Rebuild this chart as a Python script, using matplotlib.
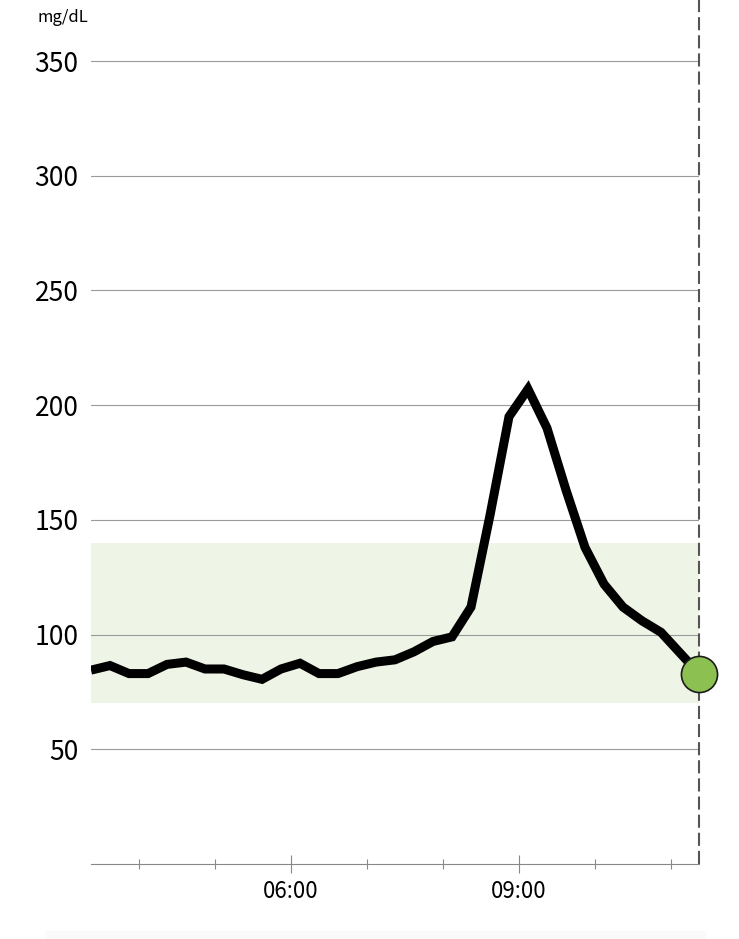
import matplotlib.pyplot as plt
import matplotlib.dates as mdates
import pandas as pd
from matplotlib.patches import Rectangle

plt.rcParams['font.family'] = ['Noto Sans CJK JP', 'DejaVu Sans']

# CGM readings, every 15 minutes
times = pd.date_range("2024-01-01 03:22", periods=33, freq="15min")
glucose = [84.5, 86.5, 83, 83, 87, 88, 85, 85, 82.5, 80.5,
           85, 87.5, 83, 83, 86, 88, 89, 92.5, 97, 99,
           112, 152, 195, 207, 190, 163, 138, 122, 112, 106,
           101, 92, 83]

target_low = 70
target_high = 140
y_ticks = [50, 100, 150, 200, 250, 300, 350]

fig = plt.figure(figsize=(7.39, 9.39), dpi=100)
ax = fig.add_axes([91/739, 75/939, 608/739, 864/939])

# faint strip at the very bottom of the screenshot
fig.patches.append(Rectangle((45/739, 0), 660/739, 8/939, transform=fig.transFigure,
                             color='#fafafa', zorder=0))

ax.axhspan(target_low, target_high, color='#eff5e6', zorder=0, lw=0)

ax.set_yticks(y_ticks)
ax.yaxis.grid(True, color='#9a9a9a', lw=0.8)
ax.set_axisbelow(True)

ax.plot(times, glucose, color='black', lw=6.5,
        solid_joinstyle='miter', solid_capstyle='butt', zorder=3)
ax.plot(times[-1], glucose[-1], 'o', ms=26, mfc='#8cc152', mec='#1a1a1a',
        mew=1.2, clip_on=False, zorder=5)

ax.axvline(times[-1], color='#555555', lw=1.5, ls=(0, (6.3, 2.4)),
           clip_on=False, zorder=2)

ax.set_xlim(times[0], times[-1])
ax.set_ylim(0, 376.6)

ax.xaxis.set_major_locator(mdates.HourLocator(byhour=[6, 9]))
ax.xaxis.set_minor_locator(mdates.HourLocator())
ax.xaxis.set_major_formatter(mdates.DateFormatter('%H:%M'))

ax.tick_params(axis='x', which='major', direction='inout', length=13,
               width=0.8, color='#888888', pad=5, labelsize=16)
ax.tick_params(axis='x', which='minor', direction='inout', length=7,
               width=0.8, color='#888888')
ax.tick_params(axis='y', length=0, pad=9, labelsize=19)

for s in ['left', 'right', 'top']:
    ax.spines[s].set_visible(False)
ax.spines['bottom'].set_color('#888888')
ax.spines['bottom'].set_linewidth(0.8)

fig.text(63/739, 1 - 17/939, "mg/dL", ha='center', va='center', fontsize=12)

fig.savefig("out.png", dpi=100)
plt.close()
